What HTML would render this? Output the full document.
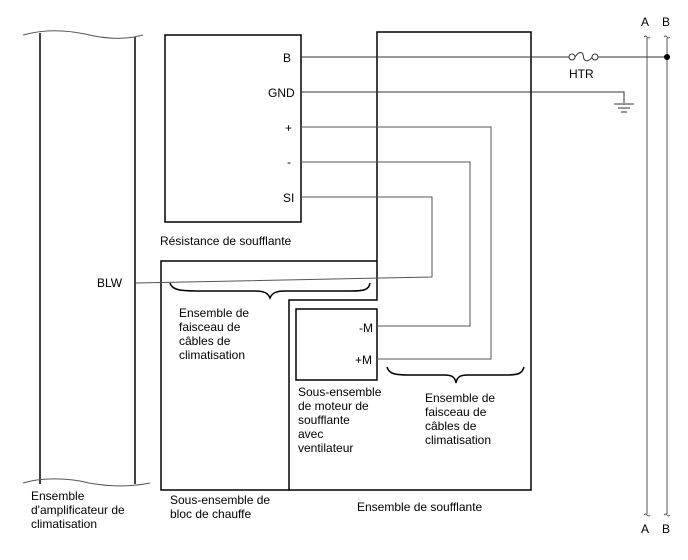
<!DOCTYPE html>
<html><head><meta charset="utf-8"><style>
html,body{margin:0;padding:0;background:#fff}
svg{display:block}
text{font-family:"Liberation Sans",Arial,sans-serif;font-size:12px;fill:#000}
</style></head><body>
<svg width="688" height="560" viewBox="0 0 688 560" xmlns="http://www.w3.org/2000/svg">
<g fill="none" stroke="#000" stroke-width="1.5">
<line x1="40" y1="33" x2="40" y2="484"/>
<line x1="135" y1="37" x2="135" y2="484"/>
<path d="M23,35 C45,29 65,30 85,34 C105,39 125,40 143,35" stroke-width="1" stroke="#555"/>
<path d="M23,483 C40,478 60,478 80,481 C100,486 125,488 150,483" stroke-width="1" stroke="#555"/>
<rect x="165" y="35" width="136" height="187"/>
<path d="M377,300 L377,32 L531,32 L531,490 L289,490 L289,300 Z"/>
<path d="M289,490 L161,490 L161,261 L377,261"/>
<rect x="296" y="309" width="81" height="71"/>
</g>
<g fill="none" stroke="#333" stroke-width="1">
<line x1="301" y1="57" x2="569" y2="57"/>
<circle cx="572" cy="57" r="3"/>
<circle cx="595" cy="57" r="3"/>
<path d="M575,57 C579,51 583,51 583.5,57 C584,62 589,62 592,57"/>
<line x1="598" y1="57" x2="667" y2="57"/>
<path d="M301,92 L624,92 L624,103"/>
<line x1="614" y1="104" x2="634" y2="104"/>
<line x1="618" y1="108" x2="630" y2="108"/>
<line x1="621" y1="112" x2="627" y2="112"/>
<path d="M301,127 L491,127 L491,359 L377,359" stroke="#555"/>
<path d="M301,162 L470,162 L470,326 L377,326" stroke="#555"/>
<path d="M301,197 L432,197 L432,277 L136,283" stroke="#555"/>
<line x1="647" y1="38" x2="647" y2="514" stroke="#555"/>
<line x1="667" y1="38" x2="667" y2="514" stroke="#555"/>
<path d="M644,37 q1.5,-2 3,0 q1.5,2 3,0 M664,37 q1.5,-2 3,0 q1.5,2 3,0" stroke="#555"/>
<path d="M644,515 q1.5,-2 3,0 q1.5,2 3,0 M664,515 q1.5,-2 3,0 q1.5,2 3,0" stroke="#555"/>
<path d="M170,283 C172,290 180,291 200,291 L255,291 C264,291 268,293 270,298 C272,293 276,291 285,291 L350,291 C364,291 369,290 370,283" stroke="#000" stroke-width="1.5"/>
<path d="M387,367 C389,374 395,375 410,375 L444,375 C452,375 455,377 456,383 C457,377 460,375 468,375 L505,375 C518,375 522,374 524,367" stroke="#000" stroke-width="1.5"/>
</g>
<circle cx="667" cy="57" r="3" fill="#000"/>
<text x="283" y="62">B</text>
<text x="268" y="97">GND</text>
<text x="285" y="132">+</text>
<text x="287" y="166">-</text>
<text x="283" y="202">SI</text>
<text x="160" y="245">Résistance de soufflante</text>
<text x="97" y="287">BLW</text>
<text x="569" y="78">HTR</text>
<text x="641" y="26">A</text>
<text x="662" y="26">B</text>
<text x="641" y="533">A</text>
<text x="662" y="533">B</text>
<text x="359" y="332">-M</text>
<text x="355" y="364">+M</text>
<text x="179" y="317">Ensemble de</text>
<text x="179" y="331">faisceau de</text>
<text x="179" y="345">câbles de</text>
<text x="179" y="359">climatisation</text>
<text x="298" y="396">Sous-ensemble</text>
<text x="298" y="410">de moteur de</text>
<text x="298" y="424">soufflante</text>
<text x="298" y="438">avec</text>
<text x="298" y="452">ventilateur</text>
<text x="425" y="402">Ensemble de</text>
<text x="425" y="416">faisceau de</text>
<text x="425" y="430">câbles de</text>
<text x="425" y="444">climatisation</text>
<text x="31" y="500">Ensemble</text>
<text x="31" y="514">d'amplificateur de</text>
<text x="31" y="528">climatisation</text>
<text x="170" y="504">Sous-ensemble de</text>
<text x="170" y="518">bloc de chauffe</text>
<text x="357" y="511">Ensemble de soufflante</text>
</svg>
</body></html>
